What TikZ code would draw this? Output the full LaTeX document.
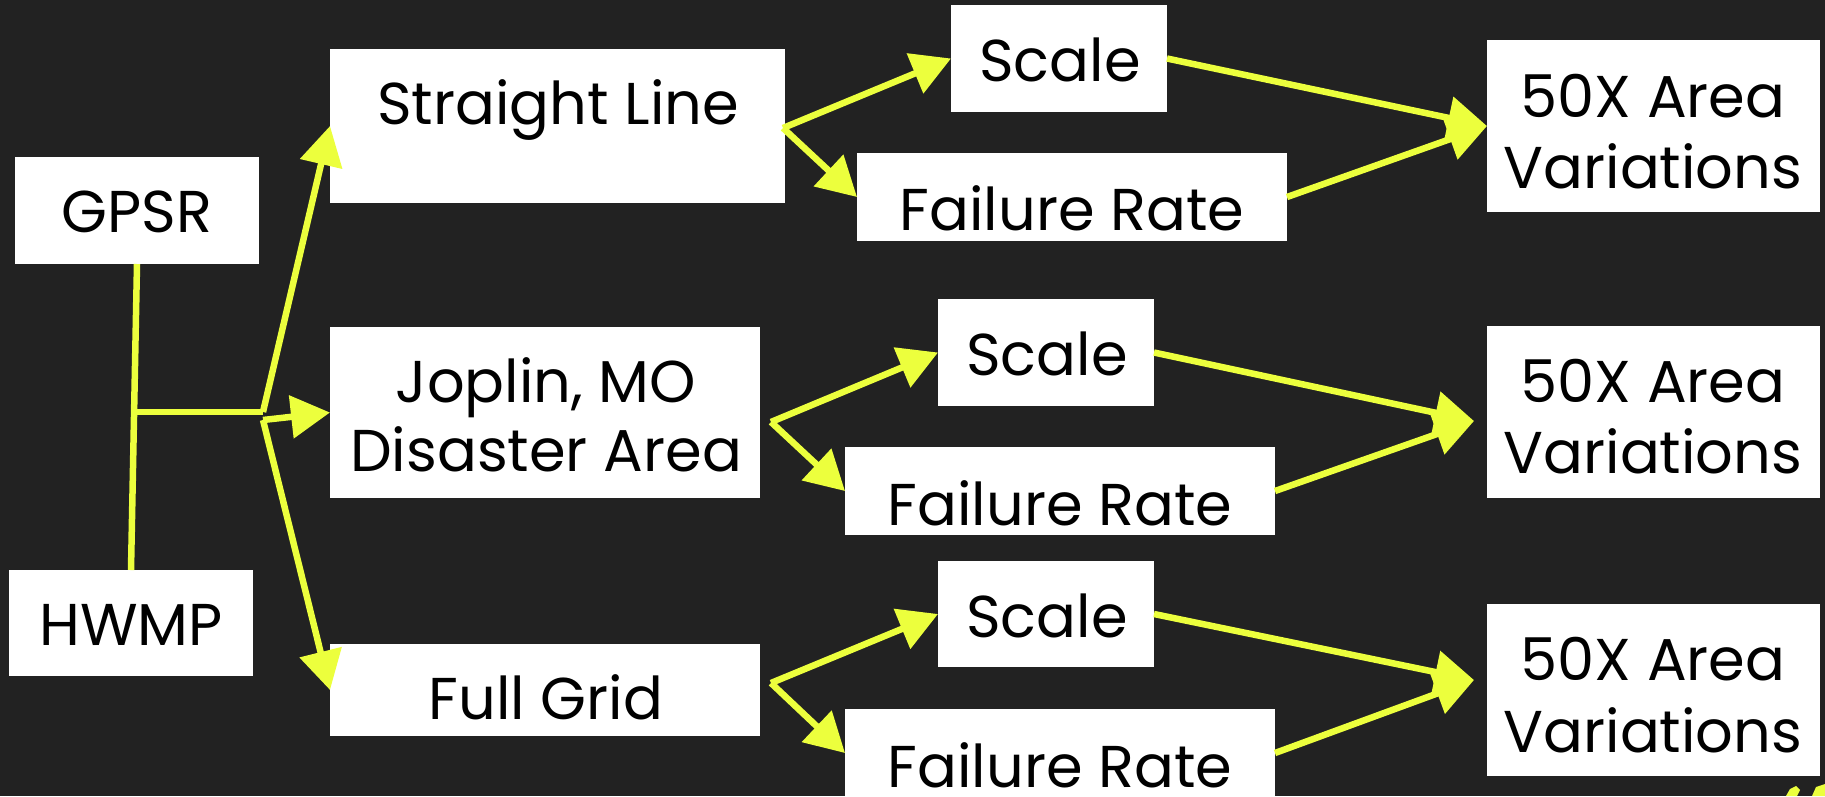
\documentclass[tikz,border=0pt]{standalone}
\usepackage{fontspec}
\setmainfont{Poppins}
\usetikzlibrary{arrows.meta}
\definecolor{slatebg}{HTML}{222222}
\definecolor{hl}{RGB}{236,255,61}
\begin{document}
\begin{tikzpicture}[x=1pt,y=-1pt,
  card/.style 2 args={fill=white, draw=none, inner sep=0pt, outer sep=0pt,
    minimum width=#1pt, minimum height=#2pt},
  lbl/.style={anchor=base, inner sep=0pt, outer sep=0pt, text=black,
    font=\fontsize{59}{71}\selectfont},
  wire/.style={draw=hl, line width=6.5pt},
  arr/.style={wire, -{Triangle[length=39pt,width=42pt]}}
]
\useasboundingbox (0,0) rectangle (1825,796);
\fill[slatebg] (0,0) rectangle (1825,796);
\clip (0,0) rectangle (1825,796);

% protocols
\node[card={244}{107}] (gpsr) at (137,210.5) {};
\node[lbl] (gpsr-t) at (137,232) {GPSR};
\node[card={244}{106}] (hwmp) at (131,623) {};
\node[lbl] (hwmp-t) at (131,645) {HWMP};

% scenarios
\node[card={455}{154}] (sl) at (557.5,126) {};
\node[lbl] (sl-t) at (558,124) {Straight Line};
\node[card={430}{171}] (jop) at (545,412.5) {};
\node[lbl] (jop-t1) at (546,402) {Joplin, MO};
\node[lbl] (jop-t2) at (546,471) {Disaster Area};
\node[card={430}{92}] (fg) at (545,690) {};
\node[lbl] (fg-t) at (546,719) {Full Grid};

% parameters
\node[card={216}{107}] (sc1) at (1059,58.5) {};
\node[lbl] (sc1-t) at (1060,81) {Scale};
\node[card={430}{88}] (fr1) at (1072,197) {};
\node[lbl] (fr1-t) at (1072,230) {Failure Rate};
\node[card={216}{107}] (sc2) at (1046,352.5) {};
\node[lbl] (sc2-t) at (1047,375) {Scale};
\node[card={430}{88}] (fr2) at (1060,491) {};
\node[lbl] (fr2-t) at (1060,525) {Failure Rate};
\node[card={216}{106}] (sc3) at (1046,614) {};
\node[lbl] (sc3-t) at (1047,637) {Scale};
\node[card={430}{88}] (fr3) at (1060,753) {};
\node[lbl] (fr3-t) at (1060,787) {Failure Rate};

% results
\node[card={333}{172}] (a1) at (1653.5,126) {};
\node[lbl] (a1-t1) at (1653,117) {50X Area};
\node[lbl] (a1-t2) at (1653,188) {Variations};
\node[card={333}{172}] (a2) at (1653.5,412) {};
\node[lbl] (a2-t1) at (1653,402) {50X Area};
\node[lbl] (a2-t2) at (1653,473) {Variations};
\node[card={333}{172}] (a3) at (1653.5,690) {};
\node[lbl] (a3-t1) at (1653,680) {50X Area};
\node[lbl] (a3-t2) at (1653,752) {Variations};

% junction and fan-out points
\coordinate (m) at (134.5,412);
\coordinate (j) at (263,412);
\coordinate (j2) at (263,420);
\coordinate (s1) at (783,128);
\coordinate (s2) at (771,422);
\coordinate (s3) at (771,683);
\coordinate (t2) at (1474,421);
\coordinate (t3) at (1474,680);

% protocol merge
\draw[wire] (gpsr.south) -- (hwmp.north);
\draw[wire] (m) -- (j);
\draw[arr] (j) -- (sl.west);
\draw[arr] (j2) -- (jop.west);
\draw[arr] (j2) -- (fg.west);

% scenario fan-out
\draw[arr] (s1) -- (sc1.west);
\draw[arr] (s1) -- (fr1.west);
\draw[arr] (s2) -- (sc2.west);
\draw[arr] (s2) -- (fr2.west);
\draw[arr] (s3) -- (sc3.west);
\draw[arr] (s3) -- (fr3.west);

% parameters into results
\draw[arr] (sc1.east) -- (a1.west);
\draw[arr] (fr1.east) -- (a1.west);
\draw[arr] (sc2.east) -- (t2);
\draw[arr] (fr2.east) -- (t2);
\draw[arr] (sc3.east) -- (t3);
\draw[arr] (fr3.east) -- (t3);

% clipped glyph fragments in the corner
\fill[hl] (1786,796) -- (1790,789) -- (1796,786) -- (1800,790) -- (1797,796) -- cycle;
\fill[hl] (1812,796) -- (1816,787) -- (1825,784) -- (1825,796) -- cycle;
\end{tikzpicture}
\end{document}
